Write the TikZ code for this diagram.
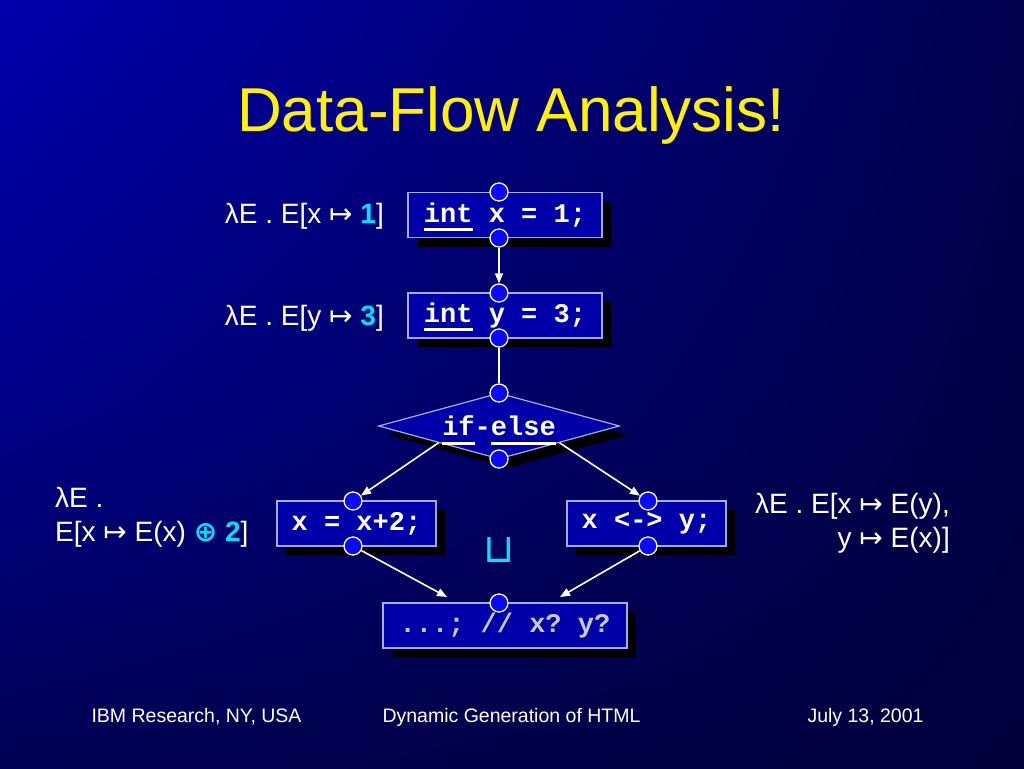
\documentclass[tikz,border=0pt]{standalone}
\usepackage{fontspec}
\setmainfont{Liberation Sans}
\setmonofont{Liberation Mono}
\newfontfamily\symfont{DejaVu Sans}
\usepackage{xcolor}
\usetikzlibrary{shapes.geometric, shadows, shadings, arrows.meta}

\definecolor{bgul}{RGB}{0,0,172}
\definecolor{bgur}{RGB}{0,0,76}
\definecolor{bgml}{RGB}{0,0,136}
\definecolor{bgmr}{RGB}{0,0,68}
\definecolor{bgll}{RGB}{0,0,82}
\definecolor{bglr}{RGB}{0,0,60}
\definecolor{boxfill}{RGB}{0,0,170}
\definecolor{boxline}{RGB}{170,170,230}
\definecolor{portblue}{RGB}{10,10,245}
\definecolor{hilite}{RGB}{0,224,255}
\definecolor{commentgray}{RGB}{200,200,210}

\newcommand{\kwd}[1]{\setbox0\hbox{#1}\smash{\rlap{\rule[-9pt]{\wd0}{3pt}}}#1}
\newcommand{\hi}[1]{\textcolor{hilite}{\textbf{#1}}}
\newcommand{\maps}{{\symfont ↦}}

\tikzset{
  stmt/.style={draw=boxline, fill=boxfill, line width=1.2pt, inner sep=0pt,
    minimum height=45pt, text=white, font=\ttfamily\bfseries\fontsize{27}{27}\selectfont,
    drop shadow={shadow xshift=9pt, shadow yshift=-9pt, fill=black, opacity=1}},
  port/.style={circle, draw=white, fill=portblue, line width=1.3pt,
    minimum size=18pt, inner sep=0pt},
  flow/.style={draw=white, line width=1.6pt, -{Triangle[length=10pt, width=8pt]}},
  wire/.style={draw=white, line width=1.6pt},
  label/.style={text=white, font=\fontsize{28}{34}\selectfont, inner sep=0pt},
  foot/.style={text=white, font=\fontsize{19.5}{20}\selectfont, inner sep=0pt},
}

\begin{document}
\begin{tikzpicture}[x=1pt, y=-1pt]
	% Slide background:
	\useasboundingbox (0,0) rectangle (1024,768);
	\shade[upper left=bgul, upper right=bgur, lower left=bgml, lower right=bgmr] (0,0) rectangle (1024,400.5);
	\shade[upper left=bgml, upper right=bgmr, lower left=bgll, lower right=bglr] (0,400) rectangle (1024,768);
	\node[text=yellow, font=\fontsize{62}{62}\selectfont, inner sep=0pt, anchor=base] (title) at (511,131){Data-Flow Analysis!};
	% Statements:
	\node[stmt, minimum width=194pt] (S1) at (505,215){\kwd{int} x = 1;};
	\node[stmt, minimum width=194pt] (S2) at (505,315.5){\kwd{int} y = 3;};
	\node[stmt, diamond, aspect=3.65, minimum width=241pt, minimum height=66pt] (IF) at (499,426){\kwd{if}-\kwd{else}};
	\node[stmt, minimum width=159pt] (S3) at (356.5,523.5){x = x+2;};
	\node[stmt, minimum width=159pt] (S4) at (646.5,523.5){x <-> y;};
	\node[stmt, minimum width=244pt, text=commentgray] (S5) at (505,625.5){...; // x? y?};
	% Ports:
	\node[port] (P1a) at (499,192){};
	\node[port] (P1b) at (499,238){};
	\node[port] (P2a) at (499,293){};
	\node[port] (P2b) at (499,338){};
	\node[port] (P3a) at (499,393){};
	\node[port] (P3b) at (499,459){};
	\node[port] (P4a) at (353,501){};
	\node[port] (P4b) at (353,546){};
	\node[port] (P5a) at (648,501){};
	\node[port] (P5b) at (648,546){};
	\node[port] (P6a) at (499,603){};
	\coordinate (J1) at (447,597);
	\coordinate (J2) at (560,597);
	% Edges:
	\draw[flow] (P1b) -- (P2a);
	\draw[wire] (P2b) -- (P3a);
	\draw[flow] (IF.south west) -- (P4a);
	\draw[flow] (IF.south east) -- (P5a);
	\draw[flow] (P4b) -- (J1);
	\draw[flow] (P5b) -- (J2);
	% Transfer functions:
	\node[label, anchor=east] (T1) at (384,216){λE . E[x \maps{} \hi{1}]};
	\node[label, anchor=east] (T2) at (384,318){λE . E[y \maps{} \hi{3}]};
	\node[label, anchor=west, align=left] (T3) at (55,517){λE .\\E[x \maps{} E(x) \hi{{\symfont ⊕} 2}]};
	\node[label, anchor=east, align=right] (T4) at (950,523){λE . E[x \maps{} E(y),\\y \maps{} E(x)]};
	\node[text=hilite, font=\symfont\fontsize{40}{40}\selectfont, inner sep=0pt] (JOIN) at (499,550){⊔};
	% Footer:
	\node[foot] (F1) at (196.5,717){IBM Research, NY, USA};
	\node[foot] (F2) at (511.5,717){Dynamic Generation of HTML};
	\node[foot] (F3) at (865.5,717){July 13, 2001};
\end{tikzpicture}
\end{document}
